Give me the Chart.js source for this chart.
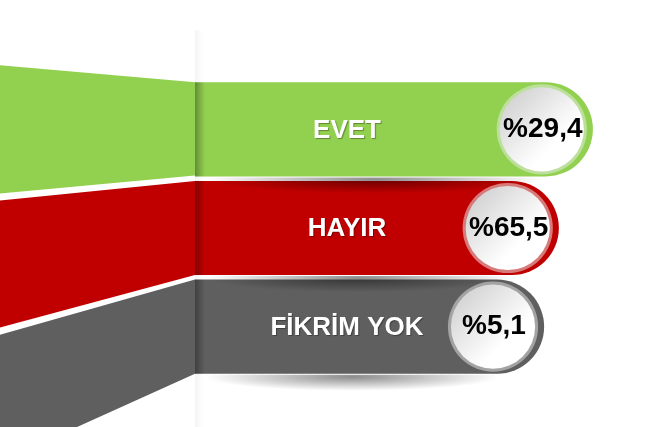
<!DOCTYPE html>
<html>
<head>
<meta charset="utf-8">
<script src="https://cdn.jsdelivr.net/npm/chart.js@4.4.1/dist/chart.umd.min.js"></script>
<style>
  html, body { margin: 0; padding: 0; background: #fff; }
  #wrap { width: 655px; height: 427px; }
</style>
</head>
<body>
<div id="wrap"><canvas id="chart" width="655" height="427"></canvas></div>
<script>
// answers and their shares (%)
const categories = ['EVET', 'HAYIR', 'FİKRİM YOK'];
const percentages = [29.4, 65.5, 5.1];
// drawn length of each ribbon (0-100 scale)
const barLength = [86.5, 79.1, 75.9];

const barColors = ['#92d050', '#c00000', '#5f5f5f'];
const ringColors = ['#bddf9c', '#d77a7a', '#a3a3a3'];

function fmtPct(v) {
  return '%' + v.toFixed(1).replace('.', ',');
}

const decorPlugin = {
  id: 'decor',
  beforeDatasetsDraw(chart) {
    const ctx = chart.ctx;
    const area = chart.chartArea;
    const bars = chart.getDatasetMeta(0).data;
    const c0 = bars[0].y;
    const k = 1.36;
    const spread = y => c0 + (y - c0) * k;

    // funnel strips on the left, widening away from the ribbons
    ctx.save();
    bars.forEach((b, i) => {
      const top = b.y - b.height / 2;
      const bot = b.y + b.height / 2;
      ctx.beginPath();
      ctx.moveTo(area.left, top);
      ctx.lineTo(area.left, bot - (i === 0 ? 1 : 0));
      ctx.lineTo(0, spread(bot));
      ctx.lineTo(0, spread(top) + (i > 0 ? 1 : 0));
      ctx.closePath();
      ctx.fillStyle = barColors[i];
      ctx.fill();
    });

    // faint fold line on the white background
    const g = ctx.createLinearGradient(area.left, 0, area.left + 8, 0);
    g.addColorStop(0, 'rgba(0,0,0,0.045)');
    g.addColorStop(1, 'rgba(0,0,0,0)');
    ctx.fillStyle = g;
    ctx.fillRect(area.left, 30, 8, chart.height - 30);
    ctx.restore();
  },
  afterDatasetsDraw(chart) {
    const ctx = chart.ctx;
    const area = chart.chartArea;
    const bars = chart.getDatasetMeta(0).data;

    // soft shadows under each ribbon
    bars.forEach((b, i) => {
      const bot = b.y + b.height / 2;
      const len = b.x - area.left;
      const cx = area.left + len * 0.45;
      const cy = bot + 3;
      const rx = len * 0.42, ry = 14;
      ctx.save();
      ctx.beginPath();
      ctx.rect(area.left, bot + 1, len, 24);
      ctx.clip();
      ctx.translate(cx, cy);
      ctx.scale(rx / ry, 1);
      const rg = ctx.createRadialGradient(0, 0, 0, 0, 0, ry);
      rg.addColorStop(0, 'rgba(0,0,0,0.45)');
      rg.addColorStop(1, 'rgba(0,0,0,0)');
      ctx.fillStyle = rg;
      ctx.beginPath();
      ctx.arc(0, 0, ry, 0, Math.PI * 2);
      ctx.fill();
      ctx.restore();
    });

    // fold shading at the start of the ribbons
    bars.forEach(b => {
      const top = b.y - b.height / 2;
      const g = ctx.createLinearGradient(area.left, 0, area.left + 10, 0);
      g.addColorStop(0, 'rgba(0,0,0,0.32)');
      g.addColorStop(1, 'rgba(0,0,0,0)');
      ctx.fillStyle = g;
      ctx.fillRect(area.left, top, 10, b.height);
    });

    bars.forEach((b, i) => {
      const r = b.height / 2 - 2;
      const cx = b.x - 6 - r;
      const cy = b.y;

      // badge ring
      ctx.save();
      ctx.beginPath();
      ctx.arc(cx, cy, r, 0, Math.PI * 2);
      ctx.fillStyle = ringColors[i];
      ctx.fill();
      // badge face
      const fg = ctx.createLinearGradient(cx - r * 0.8, cy - r * 0.8, cx + r * 0.3, cy + r * 0.3);
      fg.addColorStop(0, '#cfcfcf');
      fg.addColorStop(1, '#ffffff');
      ctx.beginPath();
      ctx.arc(cx, cy, r - 3, 0, Math.PI * 2);
      ctx.fillStyle = fg;
      ctx.fill();

      // percentage
      ctx.fillStyle = '#000';
      ctx.font = 'bold 28px "Liberation Sans", Arial, sans-serif';
      ctx.textAlign = 'center';
      ctx.textBaseline = 'middle';
      ctx.fillText(fmtPct(percentages[i]), cx + 1, cy);
      ctx.restore();

      // answer label
      ctx.save();
      ctx.font = 'bold 26px "Liberation Sans", Arial, sans-serif';
      ctx.textAlign = 'center';
      ctx.textBaseline = 'middle';
      ctx.shadowColor = 'rgba(0,0,0,0.35)';
      ctx.shadowOffsetX = 1;
      ctx.shadowOffsetY = 1;
      ctx.shadowBlur = 1;
      ctx.fillStyle = '#fff';
      ctx.fillText(categories[i], area.left + 152, b.y + 1);
      ctx.restore();
    });
  }
};

new Chart(document.getElementById('chart'), {
  type: 'bar',
  data: {
    labels: categories,
    datasets: [{
      data: barLength,
      backgroundColor: barColors,
      borderRadius: 50,
      borderSkipped: 'start',
      barPercentage: 1,
      categoryPercentage: 0.955
    }]
  },
  options: {
    indexAxis: 'y',
    responsive: false,
    animation: false,
    devicePixelRatio: 1,
    layout: { padding: { left: 195, right: 0, top: 80, bottom: 51 } },
    scales: {
      x: { display: false, min: 0, max: 100 },
      y: { display: false }
    },
    plugins: {
      legend: { display: false },
      tooltip: { enabled: false }
    }
  },
  plugins: [decorPlugin]
});
</script>
</body>
</html>
